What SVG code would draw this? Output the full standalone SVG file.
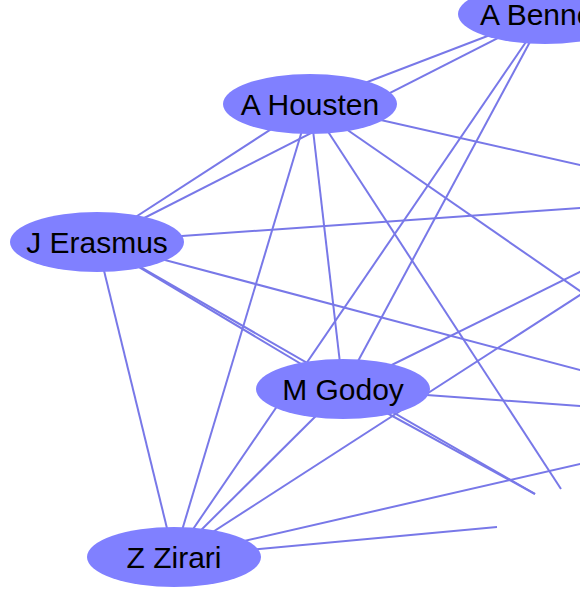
<svg xmlns="http://www.w3.org/2000/svg" width="580" height="592" viewBox="0 0 580 592">
<style>
.e{stroke:#7878e8;stroke-width:2;fill:none}
.n ellipse{fill:#8080ff}
.n text{font-family:"Liberation Sans",Arial,sans-serif;font-size:30px;fill:#000;text-anchor:middle}
</style>
<rect width="580" height="592" fill="#fff"/>
<g id="edges">
<line class="e" x1="310" y1="104" x2="545" y2="14"/>
<line class="e" x1="97" y1="242" x2="545" y2="14"/>
<line class="e" x1="545" y1="14" x2="343" y2="389"/>
<line class="e" x1="545" y1="14" x2="174" y2="557"/>
<line class="e" x1="310" y1="104" x2="600" y2="169.5"/>
<line class="e" x1="310" y1="104" x2="97" y2="242"/>
<line class="e" x1="310" y1="104" x2="174" y2="557"/>
<line class="e" x1="310" y1="104" x2="343" y2="389"/>
<line class="e" x1="310" y1="104" x2="561" y2="489"/>
<line class="e" x1="310" y1="104" x2="600" y2="304.9"/>
<line class="e" x1="97" y1="242" x2="600" y2="206.6"/>
<line class="e" x1="97" y1="242" x2="600" y2="375.3"/>
<line class="e" x1="97" y1="242" x2="343" y2="389"/>
<line class="e" x1="97" y1="242" x2="535" y2="494"/>
<line class="e" x1="343" y1="389" x2="535" y2="494"/>
<line class="e" x1="97" y1="242" x2="174" y2="557"/>
<line class="e" x1="343" y1="389" x2="600" y2="262.1"/>
<line class="e" x1="343" y1="389" x2="600" y2="407.4"/>
<line class="e" x1="343" y1="389" x2="174" y2="557"/>
<line class="e" x1="174" y1="557" x2="600" y2="282.1"/>
<line class="e" x1="174" y1="557" x2="600" y2="459.4"/>
<line class="e" x1="174" y1="557" x2="497" y2="527"/>
</g>
<g id="node-a-bennett" class="n"><ellipse cx="545" cy="14" rx="87" ry="30"/><text x="545" y="25">A Bennett</text></g>
<g id="node-a-housten" class="n"><ellipse cx="310" cy="104" rx="87" ry="30"/><text x="310" y="115">A Housten</text></g>
<g id="node-j-erasmus" class="n"><ellipse cx="97" cy="242" rx="87" ry="30"/><text x="97" y="253">J Erasmus</text></g>
<g id="node-m-godoy" class="n"><ellipse cx="343" cy="389" rx="87" ry="30"/><text x="343" y="400">M Godoy</text></g>
<g id="node-z-zirari" class="n"><ellipse cx="174" cy="557" rx="87" ry="30"/><text x="174" y="568">Z Zirari</text></g>
</svg>
